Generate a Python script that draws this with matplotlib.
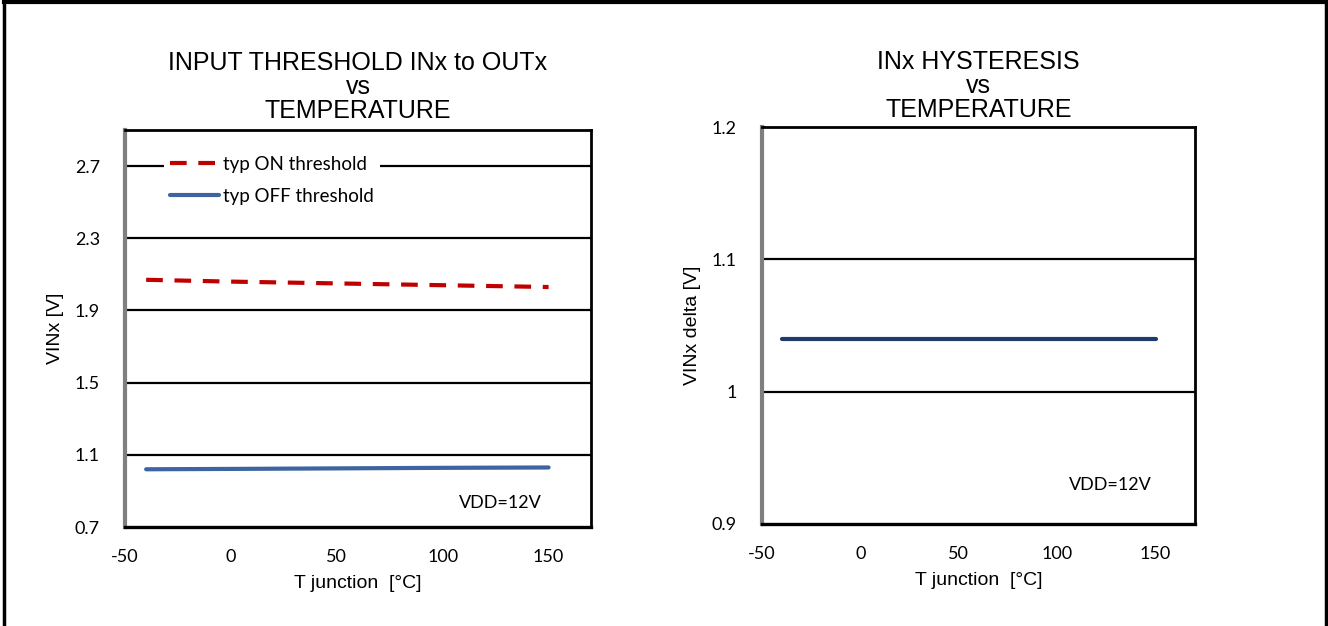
import matplotlib.pyplot as plt
from matplotlib.lines import Line2D

plt.rcParams['font.family'] = ['Liberation Sans', 'DejaVu Sans']

# data
temp = [-40, 0, 50, 100, 150]
on_thr = [2.07, 2.06, 2.05, 2.04, 2.03]
off_thr = [1.02, 1.022, 1.025, 1.028, 1.03]
hyst = [1.04, 1.04, 1.04, 1.04, 1.04]

xticks = [-50, 0, 50, 100, 150]
yticks_l = [0.7, 1.1, 1.5, 1.9, 2.3, 2.7]
yticks_r = [0.9, 1.0, 1.1, 1.2]
ylabels_r = ['0.9', '1', '1.1', '1.2']

tick_font = 'Lato'

fig = plt.figure(figsize=(13.28, 6.26), dpi=100)

# outer frame (top, left, right)
fig.add_artist(Line2D([0.003, 0.003], [0, 0.998], color='black', lw=2.5, transform=fig.transFigure))
fig.add_artist(Line2D([0.9985, 0.9985], [0, 0.998], color='black', lw=2.5, transform=fig.transFigure))
fig.add_artist(Line2D([0.003, 0.9985], [0.9975, 0.9975], color='black', lw=3, transform=fig.transFigure))

ax1 = fig.add_axes([0.0941, 0.1581, 0.3509, 0.6342])
ax2 = fig.add_axes([0.5738, 0.163, 0.326, 0.634])


def style(ax, yt, ylab, ylim, gridvals):
    ax.set_xlim(-50, 170)
    ax.set_ylim(*ylim)
    ax.set_xticks(xticks)
    ax.set_xticklabels([str(t) for t in xticks], fontfamily=tick_font, fontsize=13)
    ax.set_yticks(yt)
    ax.set_yticklabels(ylab, fontfamily=tick_font, fontsize=13)
    ax.tick_params(axis='x', length=0, pad=16)
    ax.tick_params(axis='y', direction='in', length=3, width=1.2, pad=18)
    for g in gridvals:
        ax.axhline(g, color='black', lw=1.6, zorder=1)
    ax.spines['left'].set_color('#7f7f7f')
    ax.spines['left'].set_linewidth(3)
    ax.spines['bottom'].set_linewidth(2.4)
    ax.spines['top'].set_linewidth(2)
    ax.spines['right'].set_linewidth(2)
    ax.set_xlabel('T junction  [°C]', fontsize=14, labelpad=7)


style(ax1, yticks_l, [f'{v:.1f}' for v in yticks_l], (0.7, 2.9), [1.1, 1.5, 1.9, 2.3, 2.7])
style(ax2, yticks_r, ylabels_r, (0.9, 1.2), [1.0, 1.1])

ax1.plot(temp, on_thr, color='#c00000', lw=3, ls=(0, (4, 2.8)), label='typ ON threshold', zorder=3)
ax1.plot(temp, off_thr, color='#3d64a0', lw=3, solid_capstyle='round', label='typ OFF threshold', zorder=3)
leg = ax1.legend(loc='upper left', bbox_to_anchor=(0.063, 0.975), frameon=True, fancybox=False,
                 edgecolor='none', framealpha=1, handlelength=2.6, handletextpad=0.2,
                 labelspacing=0.8, borderpad=0.35, prop={'family': tick_font, 'size': 13.5})
leg.set_zorder(5)
ax1.set_ylabel('VINx [V]', fontsize=14, labelpad=8)
ax1.text(0.805, 0.06, 'VDD=12V', transform=ax1.transAxes, ha='center', va='center',
         fontfamily=tick_font, fontsize=13)
ax1.set_title('INPUT THRESHOLD INx to OUTx\nvs\nTEMPERATURE', fontsize=18, linespacing=1.0, pad=9)

ax2.plot(temp, hyst, color='#1f3a6e', lw=3, solid_capstyle='round', zorder=3)
ax2.set_ylabel('VINx delta [V]', fontsize=14, labelpad=8)
ax2.text(0.804, 0.098, 'VDD=12V', transform=ax2.transAxes, ha='center', va='center',
         fontfamily=tick_font, fontsize=13)
ax2.set_title('INx HYSTERESIS\nvs\nTEMPERATURE', fontsize=18, linespacing=1.0, pad=7.5)

fig.savefig('out.png', dpi=100)
